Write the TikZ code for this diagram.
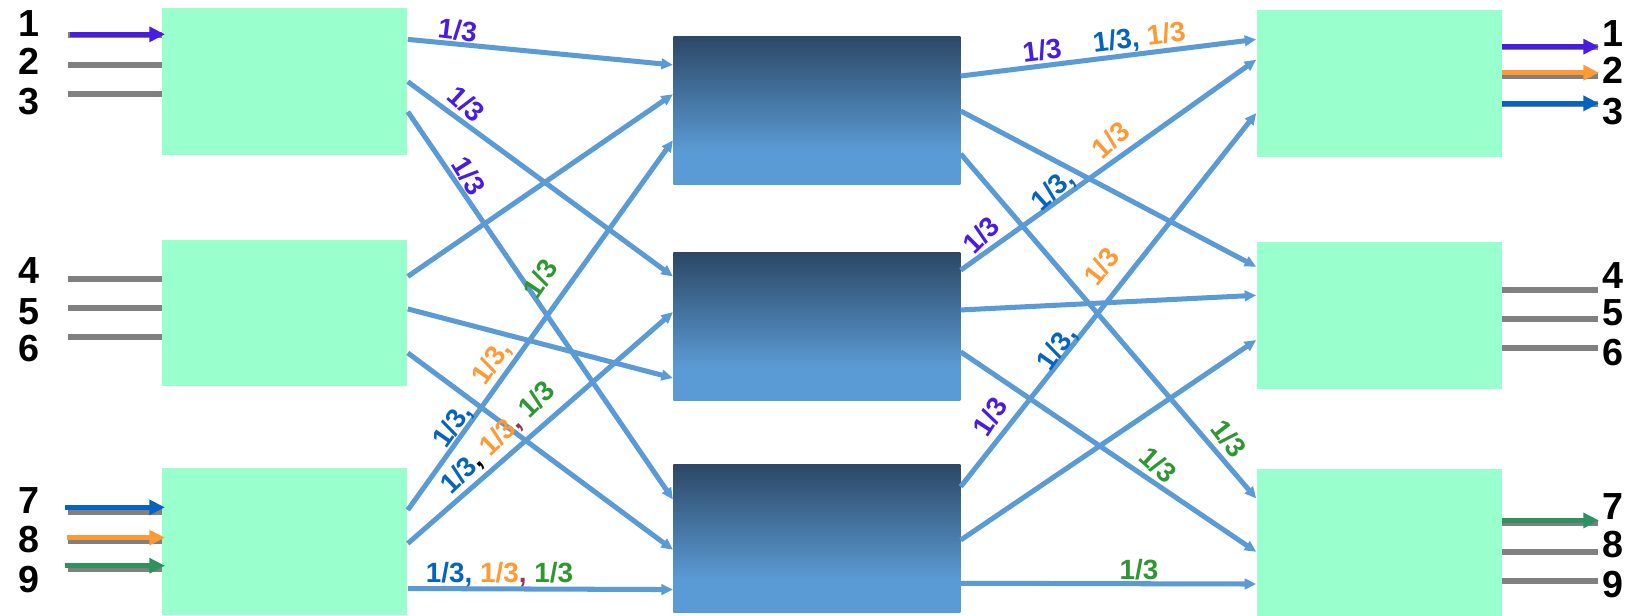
\documentclass[tikz,border=0pt]{standalone}
\usepackage{fontspec}
\setmainfont{Liberation Sans}
\usetikzlibrary{arrows.meta}
\definecolor{swgreen}{RGB}{153,255,204}
\definecolor{linkblue}{RGB}{91,155,213}
\definecolor{xbartop}{RGB}{44,72,102}
\definecolor{chpurple}{RGB}{72,28,228}
\definecolor{chblue}{RGB}{5,99,193}
\definecolor{chorange}{RGB}{255,153,51}
\definecolor{chgreen}{RGB}{46,150,50}
\definecolor{chsea}{RGB}{46,146,95}
\definecolor{commared}{RGB}{150,50,90}
\pgfdeclareverticalshading{xbarfade}{100bp}{color(0bp)=(linkblue); color(36bp)=(linkblue); color(75bp)=(xbartop); color(100bp)=(xbartop)}
\def\fr{1/3}

\begin{document}
\begin{tikzpicture}[x=0.5pt,y=-0.5pt,line cap=butt,
  swbox/.style={fill=swgreen,minimum width=117pt,minimum height=70pt,inner sep=0pt},
  xbar/.style={shading=xbarfade,minimum width=137pt,minimum height=70.5pt,inner sep=0pt},
  link/.style={linkblue,line width=2.4pt,-{Triangle[length=5.5pt,width=5pt]}},
  feed/.style={gray,line width=2.8pt},
  sig/.style={line width=2.6pt,-{Triangle[length=7.5pt,width=7pt]}},
  num/.style={font=\fontsize{18}{20}\selectfont\bfseries,inner sep=0pt},
  lab/.style={font=\fontsize{13.3}{15}\selectfont\bfseries,inner sep=0pt}]
  \useasboundingbox (0,0) rectangle (1568,588);
  \foreach \n/\y in {1/78,2/299,3/517} { \node[swbox] (L\n) at (272,\y) {}; }
  \foreach \n/\y in {1/105.5,2/312,3/514.5} { \node[xbar] (M\n) at (780,\y) {}; }
  \foreach \n/\y in {1/80,2/301.5,3/518} { \node[swbox] (R\n) at (1317,\y) {}; }
  \foreach \b/\ya/\yb/\yc in {L1/33.4/62.4/90, L2/266.7/294.4/321.5, L3/489/516.3/543.4} {
    \foreach \y in {\ya,\yb,\yc} { \coordinate (fi) at (65,\y); \draw[feed] (fi) -- (fi -| \b.west); }
  }
  \foreach \b/\ya/\yb/\yc in {R1/44.6/72.6/99.6, R2/277/304.6/332, R3/499.8/526.8/554.5} {
    \foreach \y in {\ya,\yb,\yc} { \coordinate (fo) at (1526,\y); \draw[feed] (fo -| \b.east) -- (fo); }
  }
  \foreach \c/\x/\y/\b in {chpurple/67/32.8/L1, chblue/62/484.5/L3, chorange/64/513.4/L3, chsea/62/540.2/L3} {
    \coordinate (si) at (\x,\y); \draw[sig,\c] (si) -- ([xshift=1.5pt]si -| \b.west);
  }
  \foreach \c/\y/\b in {chpurple/44.6/R1, chorange/69.4/R1, chblue/98.7/R1, chsea/497/R3} {
    \coordinate (so) at (1527,\y); \draw[sig,\c] (so -| \b.east) -- (so);
  }
  \foreach \a/\ya/\b/\yb in {L1/37.6/M1/62, L1/78/M2/264, L1/106.7/M3/477, L2/264/M1/90, L2/295/M2/361,
      L2/337/M3/525, L3/487/M1/134, L3/519/M2/298, L3/562/M3/563,
      M1/72.6/R1/37.6, M1/106/R2/254.7, M1/147/R3/476, M2/258/R1/57, M2/296/R2/282,
      M2/336/R3/527, M3/464.7/R1/108, M3/515.7/R2/324.7, M3/557/R3/557.7} {
    \draw[link] (\a.east |- 0,\ya) -- (\b.west |- 0,\yb);
  }
  \foreach \v/\y in {1/22,2/59,3/97,4/258.5,5/297.6,6/333,7/477.5,8/514.8,9/553} { \node[num] (in\v) at (27.7,\y) {\v}; }
  \foreach \v/\y in {1/31.7,2/67.5,3/106.6,4/263,5/299,6/337,7/484,8/519.6,9/558.6} { \node[num] (out\v) at (1540,\y) {\v}; }
  \node[lab,chpurple,rotate=-7] (a1) at (437,28.6) {\fr};
  \node[lab,chpurple,rotate=-42] (a2) at (445.5,99.3) {\fr};
  \node[lab,chpurple,rotate=-58] (a3) at (447.6,168) {\fr};
  \node[lab,chgreen,rotate=56] (a4) at (516,266) {\fr};
  \node[lab,chorange,rotate=55] (a5) at (470,347) {\fr,};
  \node[lab,chblue,rotate=55] (a6) at (433,407) {\fr,};
  \node[lab,rotate=44] (a7) at (476,418.6) {\textcolor{chblue}{\fr}, \textcolor{chorange}{\fr}\textcolor{commared}{,} \textcolor{chgreen}{\fr}};
  \node[lab] (a8) at (477,549) {\textcolor{chblue}{\fr,} \textcolor{chorange}{\fr}\textcolor{commared}{,} \textcolor{chgreen}{\fr}};
  \node[lab,chpurple,rotate=7] (b1) at (995,47.7) {\fr};
  \node[lab,rotate=7] (b2) at (1088,37) {\textcolor{chblue}{\fr,} \textcolor{chorange}{\fr}};
  \node[lab,chorange,rotate=42] (b3) at (1060.5,133.7) {\fr};
  \node[lab,chblue,rotate=42] (b4) at (1006,182) {\fr,};
  \node[lab,chpurple,rotate=45] (b5) at (937,224.4) {\fr};
  \node[lab,chorange,rotate=52] (b6) at (1051.6,254.6) {\fr};
  \node[lab,chblue,rotate=55] (b7) at (1010,333) {\fr,};
  \node[lab,chpurple,rotate=57] (b8) at (945.3,397.9) {\fr};
  \node[lab,chgreen,rotate=-52] (b9) at (1173.6,418.6) {\fr};
  \node[lab,chgreen,rotate=-42] (b10) at (1105.8,444) {\fr};
  \node[lab,chgreen] (b11) at (1087.7,544.3) {\fr};
\end{tikzpicture}
\end{document}
